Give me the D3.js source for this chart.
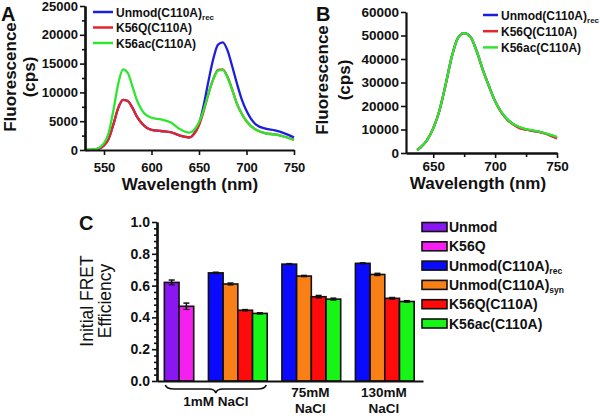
<!DOCTYPE html>
<html>
<head>
<meta charset="utf-8">
<script src="https://cdnjs.cloudflare.com/ajax/libs/d3/7.8.5/d3.min.js"></script>
<style>
body { margin: 0; background: #fff; }
svg { display: block; font-family: "Liberation Sans", Arial, sans-serif; }
</style>
</head>
<body>
<div id="chart"></div>
<script>
// ---- panel A : emission spectra, excitation at donor ----
var wlA = [530, 540, 550, 555, 560, 565, 570, 575, 580, 585, 590, 600, 610, 620, 630, 640, 645,
           650, 655, 660, 665, 670, 675, 680, 685, 690, 695, 700, 710, 720, 730, 740, 750];
var aUnmod = [0, 50, 800, 2000, 4500, 7300, 8700, 8500, 7300, 5700, 4600, 3500, 3300, 3100, 2500, 2200, 2900,
              4500, 7800, 12000, 15800, 18300, 18700, 17300, 14500, 11500, 8800, 6800, 4400, 3700, 3400, 2900, 2200];
var aK56Q  = [0, 50, 800, 2000, 4500, 7300, 8700, 8500, 7300, 5700, 4600, 3500, 3300, 3100, 2500, 2200, 2800,
              4300, 6800, 9800, 12300, 13900, 14000, 12700, 10500, 8000, 6300, 5000, 3500, 2900, 2700, 2300, 1800];
var aK56ac = [0, 100, 1200, 3000, 7000, 11500, 14000, 13400, 11000, 8500, 6900, 5600, 5300, 4800, 3600, 3000, 3500,
              4800, 7000, 9800, 12300, 13800, 13900, 12600, 10400, 8000, 6300, 5000, 3500, 2900, 2700, 2300, 1700];

// ---- panel B : emission spectra, direct acceptor excitation ----
var wlB = [637, 640, 645, 650, 655, 660, 665, 670, 675, 680, 685, 690, 695, 700,
           705, 710, 715, 720, 725, 730, 735, 740, 745, 750];
var bUnmod = [1300, 2500, 5500, 10500, 18000, 29000, 41000, 49000, 51000, 49500, 43500, 35500, 28500, 22000,
              17400, 14200, 12100, 10800, 10000, 9500, 9100, 8400, 7500, 6500];
var bK56Q  = [1300, 2500, 5500, 10500, 18000, 29000, 41000, 49000, 51000, 49500, 43500, 35500, 28500, 22000,
              17300, 14100, 12000, 10500, 9900, 9400, 9000, 8300, 7300, 6200];
var bK56ac = [1300, 2500, 5500, 10500, 18000, 29000, 41000, 49000, 51000, 49500, 43500, 35500, 28500, 22000,
              17500, 14300, 12200, 11000, 10200, 9700, 9200, 8500, 7700, 6900];

var lineNames = ["Unmod(C110A)", "K56Q(C110A)", "K56ac(C110A)"];
var lineSubs = ["rec", "", ""];
var lineColors = ["#1d1de0", "#e2262c", "#2fe62f"];

// ---- panel C : initial FRET efficiency ----
var saltLabels = [["1mM NaCl"], ["75mM", "NaCl"], ["130mM", "NaCl"]];
var barNames = ["Unmod", "K56Q", "Unmod(C110A)", "Unmod(C110A)", "K56Q(C110A)", "K56ac(C110A)"];
var barSubs = ["", "", "rec", "syn", "", ""];
var barFamily = ["wt", "wt", "c110a", "c110a", "c110a", "c110a"];
var barColors = ["#8a16f2", "#f51ff0", "#0a0aff", "#f98016", "#ff0b0b", "#16f516"];
var fretMean = [
    [0.62, 0.47, 0.68, 0.61, 0.445, 0.425],
    [null, null, 0.735, 0.66, 0.53, 0.515],
    [null, null, 0.74, 0.67, 0.52, 0.50]
];
var fretErr = [
    [0.015, 0.02, 0.004, 0.006, 0.004, 0.004],
    [null, null, 0.003, 0.004, 0.008, 0.006],
    [null, null, 0.003, 0.007, 0.005, 0.005]
];

var ink = "#111";

var svg = d3.select("#chart").append("svg")
    .attr("width", 600)
    .attr("height", 416);

function styleAxis(sel) {
    sel.attr("font-family", null);
    sel.select(".domain").attr("stroke", ink).attr("stroke-width", 2.2);
    sel.selectAll(".tick line").attr("stroke", ink).attr("stroke-width", 1.6);
    sel.selectAll(".tick text").attr("fill", ink).attr("font-weight", "bold");
}

// text with an optional subscript
function labelWithSub(g, x, y, main, sub, size, subSize) {
    var t = g.append("text")
        .attr("x", x).attr("y", y)
        .attr("font-size", size)
        .attr("font-weight", "bold")
        .attr("fill", ink);
    t.append("tspan").text(main);
    if (sub) {
        t.append("tspan").attr("dy", 3).attr("font-size", subSize).text(sub);
    }
    return t;
}

function spectrumPanel(p) {
    var g = svg.append("g");
    var x = d3.scaleLinear().domain(p.xDomain).range(p.xRange);
    var y = d3.scaleLinear().domain(p.yDomain).range(p.yRange);

    // series lines
    var line = d3.line()
        .x(function (d, i) { return x(p.wl[i]); })
        .y(function (d) { return y(d); })
        .curve(d3.curveMonotoneX);
    p.series.forEach(function (s, i) {
        g.append("path")
            .attr("d", line(s))
            .attr("fill", "none")
            .attr("stroke", lineColors[i])
            .attr("stroke-width", 2.3);
    });

    if (p.yMinor) {
        g.append("g")
            .attr("transform", "translate(" + p.xRange[0] + ",0)")
            .call(d3.axisLeft(y).tickValues(p.yMinor).tickSize(3).tickSizeOuter(0).tickFormat(""))
            .call(styleAxis);
    }
    g.append("g")
        .attr("transform", "translate(" + p.xRange[0] + ",0)")
        .call(d3.axisLeft(y).tickValues(p.yTicks).tickSize(5).tickSizeOuter(0).tickPadding(2).tickFormat(d3.format("d")))
        .call(styleAxis)
        .selectAll(".tick text").attr("font-size", p.tickSize);

    if (p.xMinor) {
        g.append("g")
            .attr("transform", "translate(0," + p.yRange[0] + ")")
            .call(d3.axisBottom(x).tickValues(p.xMinor).tickSize(4).tickSizeOuter(0).tickFormat(""))
            .call(styleAxis);
    }
    g.append("g")
        .attr("transform", "translate(0," + p.yRange[0] + ")")
        .call(d3.axisBottom(x).tickValues(p.xTicks).tickSize(5).tickSizeOuter(0).tickPadding(p.xPad).tickFormat(d3.format("d")))
        .call(styleAxis)
        .selectAll(".tick text").attr("font-size", p.tickSize);

    // titles
    g.append("text")
        .attr("x", p.xTitle[0]).attr("y", p.xTitle[1])
        .attr("text-anchor", "middle")
        .attr("font-size", 17).attr("font-weight", "bold").attr("fill", ink)
        .text("Wavelength (nm)");
    [["Fluorescence", p.yTitle[0]], ["(cps)", p.yTitle[1]]].forEach(function (t) {
        g.append("text")
            .attr("transform", "translate(" + t[1] + "," + p.yTitle[2] + ") rotate(-90)")
            .attr("text-anchor", "middle")
            .attr("font-size", 17).attr("font-weight", "bold").attr("fill", ink)
            .text(t[0]);
    });
    g.append("text")
        .attr("x", p.letter[0]).attr("y", p.letter[1])
        .attr("font-size", 20).attr("font-weight", "bold").attr("fill", ink)
        .text(p.name);

    // legend
    lineNames.forEach(function (n, i) {
        var ly = p.legend[1] + i * p.legend[3];
        g.append("line")
            .attr("x1", p.legend[0]).attr("x2", p.legend[0] + p.legend[2])
            .attr("y1", ly).attr("y2", ly)
            .attr("stroke", lineColors[i]).attr("stroke-width", 2.5);
        labelWithSub(g, p.legend[0] + p.legend[2] + 3, ly + 4.5, n, lineSubs[i], 12, 8);
    });
}

spectrumPanel({
    name: "A", letter: [1, 21],
    wl: wlA, series: [aUnmod, aK56Q, aK56ac],
    xDomain: [530, 750], xRange: [85, 294],
    yDomain: [0, 25000], yRange: [150, 6],
    xTicks: [550, 600, 650, 700, 750], xPad: 8,
    yTicks: d3.range(0, 25001, 5000), yMinor: d3.range(2500, 25000, 5000),
    tickSize: 13,
    xTitle: [190, 190], yTitle: [16, 35, 77],
    legend: [93, 12, 20, 15.5]
});

spectrumPanel({
    name: "B", letter: [316, 21],
    wl: wlB, series: [bUnmod, bK56Q, bK56ac],
    xDomain: [628, 750], xRange: [406, 557],
    yDomain: [0, 60000], yRange: [153, 12],
    xTicks: [650, 700, 750], xMinor: [675, 725], xPad: 3,
    yTicks: d3.range(0, 60001, 10000),
    tickSize: 13.5,
    xTitle: [478, 189], yTitle: [328, 350, 80],
    legend: [483, 15, 15, 16.2]
});

// ---- panel C ----
(function () {
    var g = svg.append("g");

    // assign slot positions: one empty slot between groups and between families
    var bars = [];
    var slot = -1, prevFam = null;
    fretMean.forEach(function (row, gi) {
        var first = bars.length;
        row.forEach(function (v, si) {
            if (v === null) return;
            if (prevFam !== null && (barFamily[si] !== prevFam || bars.length === first)) slot++;
            slot++;
            prevFam = barFamily[si];
            bars.push({ group: gi, series: si, value: v, err: fretErr[gi][si], slot: slot });
        });
    });

    var x = d3.scaleLinear().domain([-0.5, slot + 1.6]).range([157, 423]);
    var y = d3.scaleLinear().domain([0, 1]).range([381, 222]);
    var bw = x(1) - x(0);

    g.selectAll("rect.bar").data(bars).enter().append("rect")
        .attr("class", "bar")
        .attr("x", function (d) { return x(d.slot); })
        .attr("y", function (d) { return y(d.value); })
        .attr("width", bw)
        .attr("height", function (d) { return y(0) - y(d.value); })
        .attr("fill", function (d) { return barColors[d.series]; })
        .attr("stroke", ink)
        .attr("stroke-width", 1.6);

    // error bars
    bars.forEach(function (d) {
        var cx = x(d.slot) + bw / 2;
        var top = y(d.value + d.err), bot = y(d.value - d.err);
        g.append("line").attr("x1", cx).attr("x2", cx).attr("y1", top).attr("y2", bot)
            .attr("stroke", ink).attr("stroke-width", 1.5);
        g.append("line").attr("x1", cx - 3).attr("x2", cx + 3).attr("y1", top).attr("y2", top)
            .attr("stroke", ink).attr("stroke-width", 1.5);
        g.append("line").attr("x1", cx - 3).attr("x2", cx + 3).attr("y1", bot).attr("y2", bot)
            .attr("stroke", ink).attr("stroke-width", 1.2);
    });

    // axes
    g.append("g")
        .attr("transform", "translate(157,0)")
        .call(d3.axisLeft(y).tickValues(d3.range(0.04, 1, 0.04).filter(function (v) {
            return Math.abs(v * 5 - Math.round(v * 5)) > 0.01;
        })).tickSize(3).tickSizeOuter(0).tickFormat(""))
        .call(styleAxis);
    g.append("g")
        .attr("transform", "translate(157,0)")
        .call(d3.axisLeft(y).tickValues([0, 0.2, 0.4, 0.6, 0.8, 1.0]).tickSize(5).tickSizeOuter(0).tickPadding(2).tickFormat(d3.format(".1f")))
        .call(styleAxis)
        .selectAll(".tick text").attr("font-size", 14);
    g.append("g")
        .attr("transform", "translate(0,381)")
        .call(d3.axisBottom(x).tickValues([]).tickSizeOuter(0))
        .call(styleAxis);

    // group labels
    saltLabels.forEach(function (lab, gi) {
        var gb = bars.filter(function (b) { return b.group === gi; });
        var x0 = x(d3.min(gb, function (b) { return b.slot; }));
        var x1 = x(d3.max(gb, function (b) { return b.slot; }) + 1);
        var cx = (x0 + x1) / 2;
        if (lab.length === 1) {
            // curly brace below the first group
            var top = 385, mid = 389, tip = 393;
            var bp = d3.path();
            bp.moveTo(x0 + 1, top);
            bp.quadraticCurveTo(x0 + 2, mid, x0 + 10, mid);
            bp.lineTo(cx - 7, mid);
            bp.quadraticCurveTo(cx - 1, mid, cx, tip);
            bp.quadraticCurveTo(cx + 1, mid, cx + 7, mid);
            bp.lineTo(x1 - 10, mid);
            bp.quadraticCurveTo(x1 - 2, mid, x1 - 1, top);
            g.append("path").attr("d", bp.toString())
                .attr("fill", "none").attr("stroke", ink).attr("stroke-width", 1.6);
            g.append("text").attr("x", cx).attr("y", 406)
                .attr("text-anchor", "middle").attr("font-size", 13.5).attr("font-weight", "bold").attr("fill", ink)
                .text(lab[0]);
        } else {
            lab.forEach(function (t, li) {
                g.append("text").attr("x", cx - 1).attr("y", 397 + li * 16)
                    .attr("text-anchor", "middle").attr("font-size", 13.5).attr("font-weight", "bold").attr("fill", ink)
                    .text(t);
            });
        }
    });

    // y title
    [["Initial FRET", 93], ["Efficiency", 111]].forEach(function (t) {
        g.append("text")
            .attr("transform", "translate(" + t[1] + ",301) rotate(-90)")
            .attr("text-anchor", "middle")
            .attr("font-size", 17.5).attr("fill", ink)
            .text(t[0]);
    });
    g.append("text").attr("x", 79).attr("y", 230)
        .attr("font-size", 20).attr("font-weight", "bold").attr("fill", ink).text("C");

    // legend
    barNames.forEach(function (n, i) {
        var ly = 227 + i * 19.3;
        g.append("rect")
            .attr("x", 422).attr("y", ly - 4.5)
            .attr("width", 25).attr("height", 9)
            .attr("fill", barColors[i]).attr("stroke", ink).attr("stroke-width", 1.6);
        labelWithSub(g, 449, ly + 5, n, barSubs[i], 14, 8.5);
    });
})();
</script>
</body>
</html>
